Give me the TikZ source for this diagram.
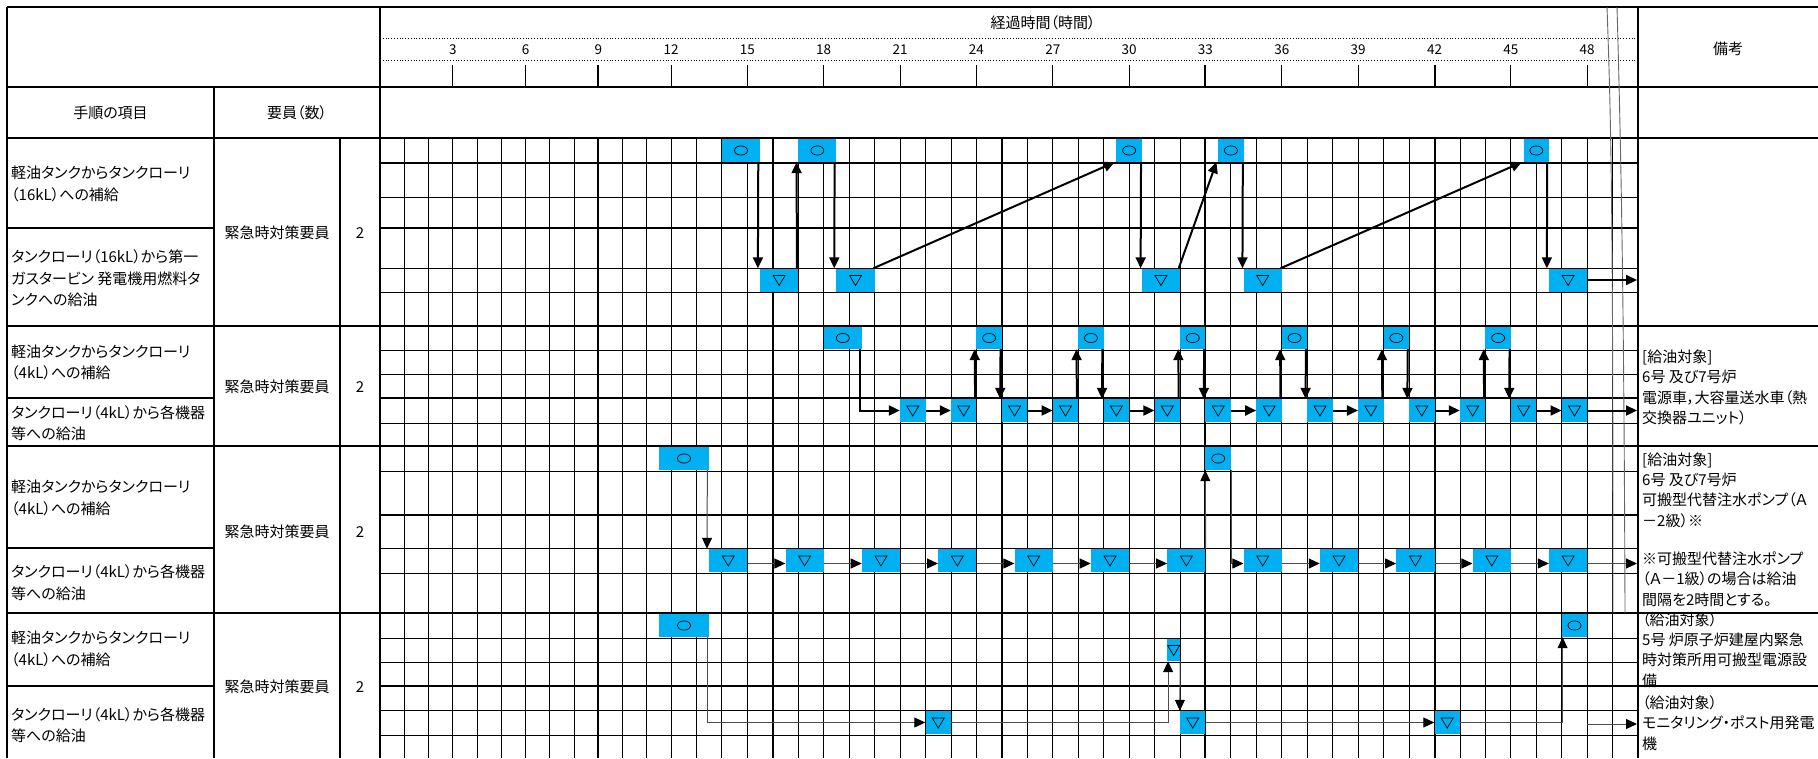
\documentclass[tikz,border=0pt]{standalone}
\usepackage{fontspec}
\setmainfont{Noto Sans CJK JP}[RawFeature=+palt]
\usetikzlibrary{arrows.meta}
\definecolor{slotblue}{RGB}{0,176,240}
\tikzset{
  gridthin/.style={line width=0.9pt},
  gridbold/.style={line width=2pt},
  sectrule/.style={line width=2.8pt},
  breakline/.style={line width=0.9pt, draw=black!60},
  slot/.style={fill=slotblue, inner sep=0pt, draw=none},
  refill/.style={slot, path picture={\draw[line width=0.7pt] (path picture bounding box.center) ellipse (6.5pt and 4.6pt);}},
  supply/.style={slot, path picture={\draw[line width=0.7pt, line join=miter] ([shift={(-6pt,4.5pt)}]path picture bounding box.center) -- ++(12pt,0pt) -- ++(-6pt,-10pt) -- cycle;}},
  flowheavy/.style={line width=2pt, -{Triangle[length=11pt,width=10pt]}},
  flowlight/.style={line width=1pt, draw=black!70, -{Triangle[length=11pt,width=10pt,color=black]}},
  task/.style={anchor=west, align=left, inner sep=0pt, font=\fontsize{15}{21.5}\selectfont},
  staff/.style={inner sep=0pt, font=\fontsize{15}{18}\selectfont},
  note/.style={anchor=west, align=left, inner sep=0pt, font=\fontsize{15}{20.3}\selectfont},
  head/.style={inner sep=0pt, font=\fontsize{15}{18}\selectfont},
  hour/.style={inner sep=0pt, font=\fontsize{13.5}{16}\selectfont},
}
\begin{document}
\begin{tikzpicture}[x=1pt, y=-1pt,
    declare function={hx(\h)=(\h<12.01) ? (380+24.25*\h) : (671+25.45*(\h-12));}]
    \useasboundingbox (0,0) rectangle (1818,758);
    % body grid
    \foreach \h in {1,...,49} {
        \draw[gridthin] ({hx(\h)},138) -- ({hx(\h)},758);
    }
    \foreach \h in {9,16,25,33,42} {
        \draw[gridbold] ({hx(\h)},138) -- ({hx(\h)},758);
    }
    \foreach \y in {197,268,292,350,374,423,471,548,573,638,662,710,735} {
        \draw[gridthin] (380,\y) -- (1638,\y);
    }
    \foreach \y in {163,228,398,515,686} {
        \draw[gridbold] (380,\y) -- (1638,\y);
    }
    \foreach \y in {228,398,548,686} {
        \draw[gridbold] (7,\y) -- (214,\y);
    }
    \draw[gridbold] (1638,686) -- (1818,686);
    \draw[gridbold] (214,87) -- (214,758);
    \draw[gridbold] (340,138) -- (340,758);
    \foreach \y in {7,87,138,326,446,613} {
        \draw[sectrule] (7,\y) -- (1818,\y);
    }
    \draw[sectrule] (7,7) -- (7,758);
    \draw[sectrule] (380,7) -- (380,758);
    \draw[sectrule] (1638,7) -- (1638,758);
    % time scale
    \draw[dotted, line width=0.8pt] (380,38) -- (1638,38);
    \draw[dotted, line width=0.8pt] (380,60) -- (1638,60);
    \foreach \h in {3,6,...,48} {
        \draw[gridthin] ({hx(\h)},65) -- ({hx(\h)},87);
        \node[hour] (hr\h) at ({hx(\h)},50) {\h};
    }
    \foreach \h in {9,33,42} {
        \draw[gridbold] ({hx(\h)},65) -- ({hx(\h)},87);
    }
    \node[head] (title) at (1043,23) {経過時間（時間）};
    % break mark
    \draw[breakline] (1607,7) .. controls (1611,120) and (1613,200) .. (1613,613);
    \draw[breakline] (1617,7) .. controls (1621,150) and (1624,300) .. (1625,613);
    % slots
    \foreach \id/\a/\b/\yc/\ht/\kind in {
        o11/14/15.5/150.5/23/refill, o12/17/18.5/150.5/23/refill, o13/29.5/30.5/150.5/23/refill,
        o14/33.5/34.5/150.5/23/refill, o15/45.5/46.5/150.5/23/refill,
        t11/15.5/17/280/23/supply, t12/18.5/20/280/23/supply, t13/30.5/32/280/23/supply,
        t14/34.5/36/280/23/supply, t15/46.5/48/280/23/supply,
        o21/18/19.5/338/22/refill, o22/24/25/338/22/refill, o23/28/29/338/22/refill,
        o24/32/33/338/22/refill, o25/36/37/338/22/refill, o26/40/41/338/22/refill,
        o27/44/45/338/22/refill,
        t21/21/22/410.5/23/supply, t22/23/24/410.5/23/supply, t23/25/26/410.5/23/supply,
        t24/27/28/410.5/23/supply, t25/29/30/410.5/23/supply, t26/31/32/410.5/23/supply,
        t27/33/34/410.5/23/supply, t28/35/36/410.5/23/supply, t29/37/38/410.5/23/supply,
        t210/39/40/410.5/23/supply, t211/41/42/410.5/23/supply, t212/43/44/410.5/23/supply,
        t213/45/46/410.5/23/supply, t214/47/48/410.5/23/supply,
        o31/11.5/13.5/458.5/23/refill, o32/33/34/458.5/23/refill,
        t31/13.5/15/560.5/23/supply, t32/16.5/18/560.5/23/supply, t33/19.5/21/560.5/23/supply,
        t34/22.5/24/560.5/23/supply, t35/25.5/27/560.5/23/supply, t36/28.5/30/560.5/23/supply,
        t37/31.5/33/560.5/23/supply, t38/34.5/36/560.5/23/supply, t39/37.5/39/560.5/23/supply,
        t310/40.5/42/560.5/23/supply, t311/43.5/45/560.5/23/supply, t312/46.5/48/560.5/23/supply,
        o41/11.5/13.5/625.5/23/refill, o42/47/48/625.5/23/refill,
        s41/31.5/32/650/22/supply,
        t41/22/23/722.5/23/supply, t42/32/33/722.5/23/supply, t43/42/43/722.5/23/supply%
    } {
        \pgfmathsetmacro\xa{hx(\a)}
        \pgfmathsetmacro\xb{hx(\b)}
        \node[\kind, minimum width={\xb-\xa}, minimum height={\ht}] (\id) at ({(\xa+\xb)/2},\yc) {};
    }
    \coordinate (s1end) at (1637,280);
    \coordinate (s2end) at (1637,410.5);
    \coordinate (s3end) at (1637,563.5);
    \coordinate (s4beg) at ({hx(48)},724);
    \coordinate (s4end) at (1637,724);
    % 16kL lorry
    \foreach \k/\dx in {1/2,2/2,3/1,4/1,5/2} {
        \draw[flowheavy] ([xshift=-\dx pt]o1\k.south east) -- ([xshift=-\dx pt]t1\k.north west);
    }
    \foreach \k [evaluate=\k as \n using int(\k+1)] in {1,...,4} {
        \draw[flowheavy] ([xshift=-1.5pt]t1\k.north east) -- ([xshift=-1.5pt]o1\n.south west);
    }
    \draw[flowheavy] (t15.east) -- (s1end);
    % 4kL lorry, 6/7 power trucks
    \draw[flowheavy] ([xshift=-2pt]o21.south east) |- (t21.west);
    \foreach \k [evaluate=\k as \n using int(\k+1)] in {1,3,...,13} {
        \draw[flowheavy] (t2\k.east) -- (t2\n.west);
    }
    \foreach \j [evaluate=\j as \u using int(2*\j-2), evaluate=\j as \d using int(2*\j-1)] in {2,...,7} {
        \draw[flowheavy] ([xshift=-1.5pt]t2\u.north east) -- ([xshift=-1.5pt]o2\j.south west);
        \draw[flowheavy] ([xshift=-1.5pt]o2\j.south east) -- ([xshift=-1.5pt]t2\d.north west);
    }
    \draw[flowheavy] (t214.east) -- (s2end);
    % 4kL lorry, pumps
    \draw[flowlight] ([xshift=-2pt]o31.south east) -- ([xshift=-2pt]t31.north west);
    \foreach \k [evaluate=\k as \n using int(\k+1)] in {1,...,6,8,9,10,11} {
        \draw[flowlight] ([yshift=-3pt]t3\k.east) -- ([yshift=-3pt]t3\n.west);
    }
    \draw[flowlight] (t37.north east) -- (o32.south west);
    \draw[flowlight] (o32.south east) |- ([yshift=-3pt]t38.west);
    \draw[flowlight] ([yshift=-3pt]t312.east) -- (s3end);
    % 4kL lorry, unit 5 / monitoring post
    \draw[flowlight] ([xshift=-2pt]o41.south east) |- (t41.west);
    \draw[flowlight] (t41.east) -| ([xshift=1pt]s41.south west);
    \draw[flowlight] (s41.south east) -- (t42.north west);
    \draw[flowlight] (t42.east) -- (t43.west);
    \draw[flowlight] (t43.east) -| ([xshift=1pt]o42.south west);
    \draw[flowlight] (s4beg) -- (s4end);
    % headings
    \node[head] (hdtask) at (110.5,113) {手順の項目};
    \node[head] (hdstaff) at (297,113) {要員（数）};
    \node[head] (hdnote) at (1728,49) {備考};
    % tasks
    \node[task] (task1a) at (11,184) {軽油タンクからタンクローリ\\（16kL）への補給};
    \node[task] (task1b) at (11,278.5) {タンクローリ（16kL）から第一\\ガスタービン 発電機用燃料タ\\ンクへの給油};
    \node[task] (task2a) at (11,362.5) {軽油タンクからタンクローリ\\（4kL）への補給};
    \node[task] (task2b) at (11,423) {タンクローリ（4kL）から各機器\\等への給油};
    \node[task] (task3a) at (11,498) {軽油タンクからタンクローリ\\（4kL）への補給};
    \node[task] (task3b) at (11,582.5) {タンクローリ（4kL）から各機器\\等への給油};
    \node[task] (task4a) at (11,649) {軽油タンクからタンクローリ\\（4kL）への補給};
    \node[task] (task4b) at (11,725) {タンクローリ（4kL）から各機器\\等への給油};
    \foreach \n/\y in {1/233, 2/387, 3/532, 4/687} {
        \node[staff] (staff\n) at (277,\y) {緊急時対策要員};
        \node[staff] (num\n) at (360,\y) {2};
    }
    % remarks
    \node[note] (note2) at (1642,387.5) {[給油対象]\\6号 及び7号炉\\電源車，大容量送水車（熱\\交換器ユニット）};
    \node[note] (note3a) at (1642,490) {[給油対象]\\6号 及び7号炉\\可搬型代替注水ポンプ（Ａ\\－2級）※};
    \node[note] (note3b) at (1642,579) {※可搬型代替注水ポンプ\\（Ａ－1級）の場合は給油\\間隔を2時間とする。};
    \node[note] (note4a) at (1642,650) {（給油対象）\\5号 炉原子炉建屋内緊急\\時対策所用可搬型電源設\\備};
    \node[note] (note4b) at (1642,723) {（給油対象）\\モニタリング・ポスト用発電\\機};
\end{tikzpicture}
\end{document}
